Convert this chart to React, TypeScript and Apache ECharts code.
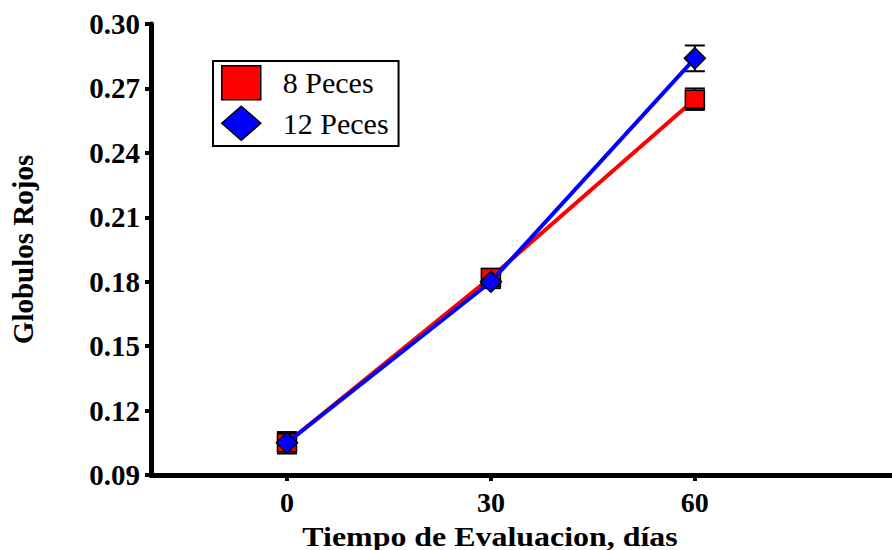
import React, { useEffect, useRef } from "react";
import * as echarts from "echarts";

const days = [0, 30, 60];
const peces8 = [0.105, 0.182, 0.265];
const peces8Err = [0.005, 0.004, 0.005];
const peces12 = [0.105, 0.180, 0.284];
const peces12Err = [0.004, 0.003, 0.006];
const xTicks = [0, 30, 60];
const seriesNames = ["8 Peces", "12 Peces"];

const FONT = "'Liberation Serif', 'Times New Roman', serif";

export default function App() {
  const ref = useRef<HTMLDivElement>(null);
  useEffect(() => {
    const chart = echarts.init(ref.current!, null, { renderer: "svg" });
    const errData = (vals: number[], errs: number[]) =>
      days.map((d, i) => [d, vals[i] - errs[i], vals[i] + errs[i]]);
    const errSeries = (vals: number[], errs: number[]) => ({
      type: "custom",
      z: 1,
      silent: true,
      data: errData(vals, errs),
      renderItem: (params: any, api: any) => {
        const x = api.value(0);
        const lo = api.coord([x, api.value(1)]);
        const hi = api.coord([x, api.value(2)]);
        const w = 10;
        const style = { stroke: "#000", lineWidth: 2 };
        return {
          type: "group",
          children: [
            { type: "line", shape: { x1: lo[0], y1: lo[1], x2: hi[0], y2: hi[1] }, style },
            { type: "line", shape: { x1: lo[0] - w, y1: lo[1], x2: lo[0] + w, y2: lo[1] }, style },
            { type: "line", shape: { x1: hi[0] - w, y1: hi[1], x2: hi[0] + w, y2: hi[1] }, style },
          ],
        };
      },
    });
    chart.setOption({
      animation: false,
      grid: { left: 150, right: 0, top: 24, bottom: 75, containLabel: false },
      legend: {
        left: 213,
        top: 61,
        orient: "vertical",
        data: [
          { name: seriesNames[0], icon: "rect" },
          { name: seriesNames[1], icon: "diamond" },
        ],
        borderColor: "#000",
        borderWidth: 2,
        borderRadius: 0,
        padding: [4, 10, 5, 8],
        itemWidth: 39,
        itemHeight: 34,
        itemGap: 5,
        itemStyle: { borderColor: "#000", borderWidth: 1.5 },
        textStyle: { fontFamily: FONT, fontSize: 30, color: "#000", padding: [0, 0, 0, 17] },
      },
      xAxis: {
        type: "value",
        min: -20,
        max: 89,
        splitLine: { show: false },
        axisLine: { onZero: false, lineStyle: { color: "#000", width: 5 } },
        axisTick: { show: true, customValues: xTicks, length: 6, lineStyle: { color: "#000", width: 4 } },
        axisLabel: {
          customValues: xTicks,
          margin: 13,
          color: "#000",
          fontFamily: FONT,
          fontWeight: "bold",
          fontSize: 28,
        },
      },
      yAxis: {
        type: "value",
        min: 0.09,
        max: 0.3,
        interval: 0.03,
        splitLine: { show: false },
        axisLine: { onZero: false, lineStyle: { color: "#000", width: 5 } },
        axisTick: { show: true, length: 6, lineStyle: { color: "#000", width: 4 } },
        axisLabel: {
          margin: 11,
          color: "#000",
          fontFamily: FONT,
          fontWeight: "bold",
          fontSize: 29,
          formatter: (v: number) => v.toFixed(2),
        },
        name: "Globulos Rojos",
        nameLocation: "middle",
        nameGap: 114,
        nameTextStyle: { fontFamily: FONT, fontWeight: "bold", fontSize: 29, color: "#000" },
      },
      graphic: [
        {
          type: "text",
          x: 490,
          y: 536,
          scaleX: 1.14,
          style: {
            text: "Tiempo de Evaluacion, días",
            fontFamily: FONT,
            fontWeight: "bold",
            fontSize: 28,
            fill: "#000",
            align: "center",
            verticalAlign: "middle",
          },
        },
      ],
      series: [
        errSeries(peces8, peces8Err),
        errSeries(peces12, peces12Err),
        {
          name: seriesNames[0],
          type: "line",
          z: 3,
          data: days.map((d, i) => [d, peces8[i]]),
          symbol: "rect",
          symbolSize: [19, 18],
          lineStyle: { color: "#ff0000", width: 4 },
          itemStyle: { color: "#ff0000", borderColor: "#000", borderWidth: 1.5 },
        },
        {
          name: seriesNames[1],
          type: "line",
          z: 4,
          data: days.map((d, i) => [d, peces12[i]]),
          symbol: "diamond",
          symbolSize: [21, 21],
          lineStyle: { color: "#0000ff", width: 4 },
          itemStyle: { color: "#0000ff", borderColor: "#000", borderWidth: 1.5 },
        },
      ],
    });
    return () => chart.dispose();
  }, []);
  return (
    <div
      ref={ref}
      style={{ position: "fixed", left: 0, top: 0, width: 892, height: 550, background: "#fff" }}
    />
  );
}
